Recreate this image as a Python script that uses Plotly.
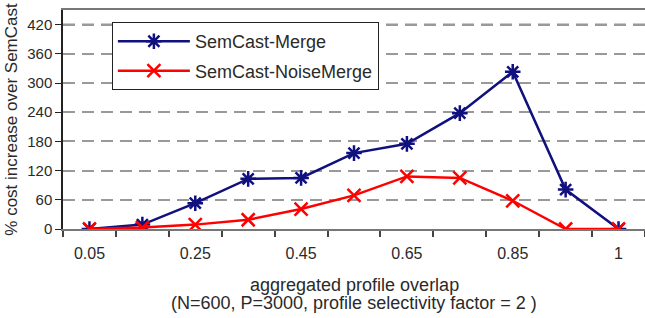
import plotly.graph_objects as go

categories = ["0.05", "0.15", "0.25", "0.35", "0.45", "0.55", "0.65", "0.75", "0.85", "0.95", "1"]
merge = [0, 9, 53, 103, 105, 156, 175, 238, 323, 81, 0]
noise_merge = [0, 3, 9, 19, 41, 69, 108, 105, 58, 0, 0]
y_ticks = [0, 60, 120, 180, 240, 300, 360, 420]

idx = list(range(len(categories)))
shown_idx = idx[::2]
shown_lab = [categories[i] for i in shown_idx]
boundaries = [i - 0.5 for i in range(len(categories) + 1)]

FONT = "Liberation Sans, Arial, sans-serif"
TXT = "#2a2a2a"

fig = go.Figure()
fig.add_trace(go.Scatter(
    x=idx, y=merge, name="SemCast-Merge", mode="lines+markers", legendgroup="a",
    line=dict(color="#10107f", width=2.5),
    marker=dict(symbol="asterisk-open", size=13, line=dict(color="#10107f", width=2.5)),
))
fig.add_trace(go.Scatter(
    x=idx, y=noise_merge, name="SemCast-NoiseMerge", mode="lines+markers", legendgroup="b",
    line=dict(color="#ff0000", width=2.5),
    marker=dict(symbol="x-thin-open", size=13, line=dict(color="#ff0000", width=2.5)),
))

# darker upper grid lines as in the original
for v in y_ticks[-2:]:
    fig.add_shape(type="line", xref="paper", yref="y", x0=0, x1=1, y0=v, y1=v,
                  line=dict(color="#333", width=1.5, dash="12px,7px"), layer="below")

fig.update_layout(
    width=645, height=318,
    margin=dict(l=63, r=0, t=10, b=89),
    plot_bgcolor="white", paper_bgcolor="white",
    font=dict(family=FONT, size=18, color=TXT),
    showlegend=True,
    legend=dict(
        x=0.084, y=0.945, xanchor="left", yanchor="top",
        bgcolor="white", bordercolor="#222", borderwidth=1,
        font=dict(size=18), itemwidth=72, tracegroupgap=3,
    ),
    annotations=[
        dict(text="aggregated profile overlap", xref="paper", yref="paper",
             x=0.5, y=0, xanchor="center", yanchor="middle", yshift=-56,
             showarrow=False, font=dict(size=18, color=TXT)),
        dict(text="(N=600, P=3000, profile selectivity factor = 2 )", xref="paper", yref="paper",
             x=0.5, y=0, xanchor="center", yanchor="middle", yshift=-74,
             showarrow=False, font=dict(size=18, color=TXT)),
    ],
)
fig.update_xaxes(
    range=[-0.5, len(categories) - 0.5],
    tickmode="array", tickvals=shown_idx, ticktext=shown_lab,
    ticks="", showgrid=False, zeroline=False,
    showline=True, linecolor="#777", linewidth=2, mirror=True,
    minor=dict(tickmode="array", tickvals=boundaries, ticks="outside",
               ticklen=6, tickcolor="#444", tickwidth=1.5, showgrid=False),
    tickfont=dict(size=16), ticklabelstandoff=9,
)
fig.update_yaxes(
    range=[0, 450],
    tickmode="array", tickvals=y_ticks,
    ticks="outside", ticklen=6, tickcolor="#222",
    showline=True, linecolor="#222", linewidth=1.5,
    showgrid=True, gridcolor="#999", griddash="12px,7px", gridwidth=1.5,
    zeroline=False,
    tickfont=dict(size=15),
    title=dict(text="% cost increase over SemCast", font=dict(size=17), standoff=5),
)

fig.write_html("out.html")
